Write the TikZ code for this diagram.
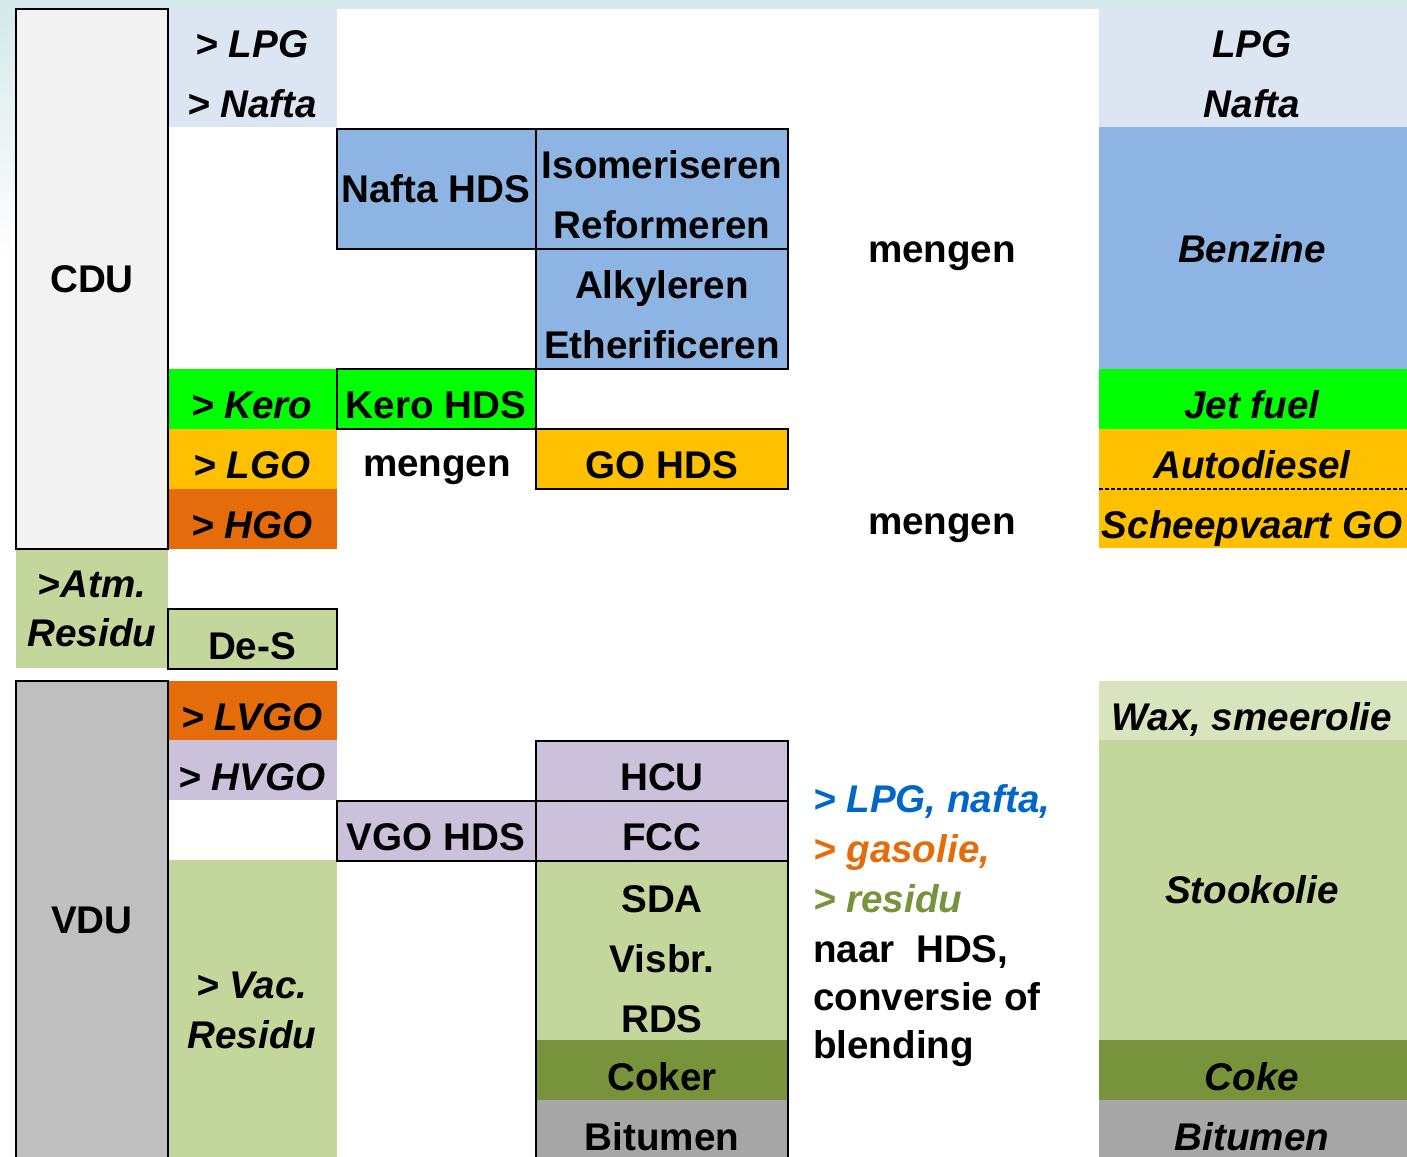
\documentclass[tikz,border=0pt]{standalone}
\usepackage{fontspec}
\setmainfont{Liberation Sans}
\usepackage{tikz}
\definecolor{bgtop}{HTML}{D6E9EC}
\definecolor{cdugray}{HTML}{F2F2F2}
\definecolor{vdugray}{HTML}{BFBFBF}
\definecolor{lightblue}{HTML}{DCE6F2}
\definecolor{naftablue}{HTML}{8EB4E3}
\definecolor{kerogreen}{HTML}{00FF00}
\definecolor{goorange}{HTML}{FFC000}
\definecolor{hgoorange}{HTML}{E46C0A}
\definecolor{resgreen}{HTML}{C3D69B}
\definecolor{waxgreen}{HTML}{D7E4BD}
\definecolor{vgopurple}{HTML}{CCC1DA}
\definecolor{cokeolive}{HTML}{77933C}
\definecolor{bitgray}{HTML}{A6A6A6}
\definecolor{txtblue}{HTML}{0066CC}

\begin{document}
\begin{tikzpicture}[x=1pt, y=-1pt,
  txt/.style={anchor=base, inner sep=0pt, font=\fontsize{38.6}{46}\selectfont\bfseries},
  itxt/.style={anchor=base, inner sep=0pt, font=\fontsize{38.6}{46}\selectfont\bfseries\itshape},
  unit/.style={draw=black, line width=2.8pt}]
% Column edges
\def\cA{16}    % left of CDU / VDU
\def\cB{168}   % first cuts
\def\cC{337}   % HDS column
\def\cD{536}   % conversion column
\def\cE{788}   % end of conversion column
\def\cF{1099}  % products column
\def\cG{1407}  % right edge
% Page and background
\useasboundingbox (0,0) rectangle (1407,1156);
\clip (0,0) rectangle (1407,1156);
\fill[white] (0,0) rectangle (1407,1156);
\fill[bgtop] (0,0) rectangle (1407,9);
\shade[top color=bgtop, bottom color=white] (0,9) rectangle (\cA,260);
% Atmospheric cuts (no border)
\fill[lightblue] (\cB,9) rectangle (\cC,127);
\fill[kerogreen] (\cB,369) rectangle (\cC,429);
\fill[goorange] (\cB,429) rectangle (\cC,489);
\fill[hgoorange] (\cB,489) rectangle (\cC,549);
\fill[resgreen] (\cA,549) rectangle (\cB,668);
% Vacuum cuts (no border)
\fill[hgoorange] (\cB,681) rectangle (\cC,740);
\fill[vgopurple] (\cB,740) rectangle (\cC,800);
\fill[resgreen] (\cB,860) rectangle (\cC,1160);
% Product column
\fill[lightblue] (\cF,9) rectangle (\cG,127);
\fill[naftablue] (\cF,127) rectangle (\cG,369);
\fill[kerogreen] (\cF,369) rectangle (\cG,429);
\fill[goorange] (\cF,429) rectangle (\cG,548);
\draw[line width=2pt, dash pattern=on 4pt off 2pt] (\cF,489) -- (\cG,489);
\fill[waxgreen] (\cF,681) rectangle (\cG,740);
\fill[resgreen] (\cF,740) rectangle (\cG,1040);
\fill[cokeolive] (\cF,1040) rectangle (\cG,1100);
\fill[bitgray] (\cF,1100) rectangle (\cG,1160);
% Units with border
\filldraw[unit, fill=cdugray] (\cA,9) rectangle (\cB,549);
\filldraw[unit, fill=vdugray] (\cA,681) rectangle (\cB,1170);
\filldraw[unit, fill=naftablue] (\cC,129) rectangle (\cD,249);
\filldraw[unit, fill=naftablue] (\cD,129) rectangle (\cE,249);
\filldraw[unit, fill=naftablue] (\cD,249) rectangle (\cE,369);
\filldraw[unit, fill=kerogreen] (\cC,369) rectangle (\cD,429);
\filldraw[unit, fill=goorange] (\cD,429) rectangle (\cE,489);
\filldraw[unit, fill=resgreen] (\cB,609) rectangle (\cC,669);
\filldraw[unit, fill=vgopurple] (\cD,741) rectangle (\cE,801);
\filldraw[unit, fill=vgopurple] (\cD,801) rectangle (\cE,861);
\filldraw[unit, fill=vgopurple] (\cC,801) rectangle (\cD,861);
\fill[resgreen] (\cD,861) rectangle (\cE,1040);
\fill[cokeolive] (\cD,1040) rectangle (\cE,1100);
\fill[bitgray] (\cD,1100) rectangle (\cE,1170);
\draw[unit] (\cD,861) rectangle (\cE,1170);
% Distillation labels
\node[txt] (cdu) at (92,292) {CDU};
\node[txt] (vdu) at (92,933) {VDU};
\node[itxt] (lpgcut) at (252,58) {> LPG};
\node[itxt] (naftacut) at (252,117) {> Nafta};
\node[itxt] (kerocut) at (252,418) {> Kero};
\node[itxt] (lgocut) at (252,478) {> LGO};
\node[itxt] (hgocut) at (252,538) {> HGO};
\node[itxt] (atmres) at (92,597) {>Atm.};
\node[itxt] (atmresb) at (92,646) {Residu};
\node[itxt] (lvgocut) at (252,730) {> LVGO};
\node[itxt] (hvgocut) at (252,790) {> HVGO};
\node[itxt] (vacres) at (252,998) {> Vac.};
\node[itxt] (vacresb) at (252,1048) {Residu};
% Treating and conversion labels
\node[txt] (naftahds) at (436,202) {Nafta HDS};
\node[txt] (isom) at (662,178) {Isomeriseren};
\node[txt] (reform) at (662,238) {Reformeren};
\node[txt] (alky) at (662,298) {Alkyleren};
\node[txt] (ether) at (662,358) {Etherificeren};
\node[txt] (kerohds) at (436,418) {Kero HDS};
\node[txt] (mengenA) at (437,476) {mengen};
\node[txt] (gohds) at (662,478) {GO HDS};
\node[txt] (des) at (252,659) {De-S};
\node[txt] (hcu) at (662,790) {HCU};
\node[txt] (fcc) at (662,850) {FCC};
\node[txt] (vgohds) at (436,850) {VGO HDS};
\node[txt] (sda) at (662,912) {SDA};
\node[txt] (visbr) at (662,972) {Visbr.};
\node[txt] (rds) at (662,1032) {RDS};
\node[txt] (coker) at (662,1090) {Coker};
\node[txt] (bitumenA) at (662,1150) {Bitumen};
% Blending labels
\node[txt] (mengenB) at (942,262) {mengen};
\node[txt] (mengenC) at (942,534) {mengen};
\node[itxt, anchor=base west, text=txtblue] (backA) at (813,812) {> LPG, nafta,};
\node[itxt, anchor=base west, text=hgoorange] (backB) at (813,862) {> gasolie,};
\node[itxt, anchor=base west, text=cokeolive] (backC) at (813,912) {> residu};
\node[txt, anchor=base west] (backD) at (813,962) {naar~ HDS,};
\node[txt, anchor=base west] (backE) at (813,1010) {conversie of};
\node[txt, anchor=base west] (backF) at (813,1058) {blending};
% Product labels
\node[itxt] (lpg) at (1252,58) {LPG};
\node[itxt] (nafta) at (1252,117) {Nafta};
\node[itxt] (benzine) at (1252,262) {Benzine};
\node[itxt] (jetfuel) at (1252,418) {Jet fuel};
\node[itxt] (autodiesel) at (1252,478) {Autodiesel};
\node[itxt] (scheepvaart) at (1252,538) {Scheepvaart GO};
\node[itxt] (wax) at (1252,730) {Wax, smeerolie};
\node[itxt] (stookolie) at (1252,903) {Stookolie};
\node[itxt] (coke) at (1252,1090) {Coke};
\node[itxt] (bitumenB) at (1252,1150) {Bitumen};
\end{tikzpicture}
\end{document}
